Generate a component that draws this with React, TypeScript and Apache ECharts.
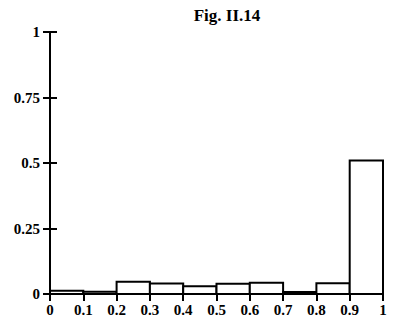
import React, { useEffect, useRef } from "react";
import * as echarts from "echarts";

// Histogram bin edges (lower bounds) and relative frequencies
const binStarts = [0, 0.1, 0.2, 0.3, 0.4, 0.5, 0.6, 0.7, 0.8, 0.9];
const binWidth = 0.1;
const frequencies = [0.012, 0.009, 0.047, 0.04, 0.03, 0.039, 0.043, 0.008, 0.041, 0.51];
const xTickLabels = ["0", "0.1", "0.2", "0.3", "0.4", "0.5", "0.6", "0.7", "0.8", "0.9", "1"];
const yTickLabels: Record<string, string> = { "0": "0", "0.25": "0.25", "0.5": "0.5", "0.75": "0.75", "1": "1" };
const title = "Fig. II.14";

const FONT = "'Liberation Serif', 'DejaVu Serif', serif";

export default function App() {
  const ref = useRef<HTMLDivElement>(null);

  useEffect(() => {
    if (!ref.current) return;
    const chart = echarts.init(ref.current, undefined, { renderer: "svg" });

    const axisLine = { show: true, lineStyle: { color: "#000", width: 2 } };
    const tick = { show: true, inside: true, length: 7, lineStyle: { color: "#000", width: 2 } };
    const labelStyle = { color: "#000", fontFamily: FONT, fontWeight: "bold" as const, fontSize: 15 };

    chart.setOption({
      animation: false,
      backgroundColor: "#fff",
      title: {
        text: title,
        left: 222,
        top: 2,
        textAlign: "center",
        textStyle: { color: "#000", fontFamily: FONT, fontWeight: "bold", fontSize: 17 },
      },
      grid: { left: 50, right: 10, top: 32, bottom: 27 },
      xAxis: [
        {
          type: "value",
          min: 0,
          max: 1,
          interval: 0.1,
          position: "bottom",
          axisLine,
          axisTick: { show: false },
          splitLine: { show: false },
          axisLabel: {
            ...labelStyle,
            margin: 8,
            formatter: (v: number) => xTickLabels[Math.round(v * 10)] ?? "",
          },
        },
        {
          type: "value",
          min: 0,
          max: 1,
          interval: 0.1,
          position: "top",
          axisLine,
          axisTick: tick,
          splitLine: { show: false },
          axisLabel: { show: false },
        },
      ],
      yAxis: [
        {
          type: "value",
          min: 0,
          max: 1,
          interval: 0.25,
          position: "left",
          axisLine,
          axisTick: tick,
          splitLine: { show: false },
          axisLabel: {
            ...labelStyle,
            margin: 10,
            formatter: (v: number) => yTickLabels[String(v)] ?? "",
          },
        },
        {
          type: "value",
          min: 0,
          max: 1,
          interval: 0.25,
          position: "right",
          axisLine,
          axisTick: tick,
          splitLine: { show: false },
          axisLabel: { show: false },
        },
      ],
      series: [
        {
          type: "custom",
          xAxisIndex: 0,
          yAxisIndex: 0,
          data: binStarts.map((s, i) => [s, s + binWidth, frequencies[i]]),
          renderItem: (_params: any, api: any) => {
            const x0 = api.value(0);
            const x1 = api.value(1);
            const h = api.value(2);
            const p0 = api.coord([x0, h]);
            const p1 = api.coord([x1, 0]);
            return {
              type: "rect",
              shape: { x: p0[0], y: p0[1], width: p1[0] - p0[0], height: p1[1] - p0[1] },
              style: { fill: "#fff", stroke: "#000", lineWidth: 2 },
            };
          },
          z: 1,
        },
      ],
    });

    return () => chart.dispose();
  }, []);

  return (
    <div
      ref={ref}
      style={{ position: "fixed", left: 0, top: 0, width: 393, height: 321, background: "#fff" }}
    />
  );
}
